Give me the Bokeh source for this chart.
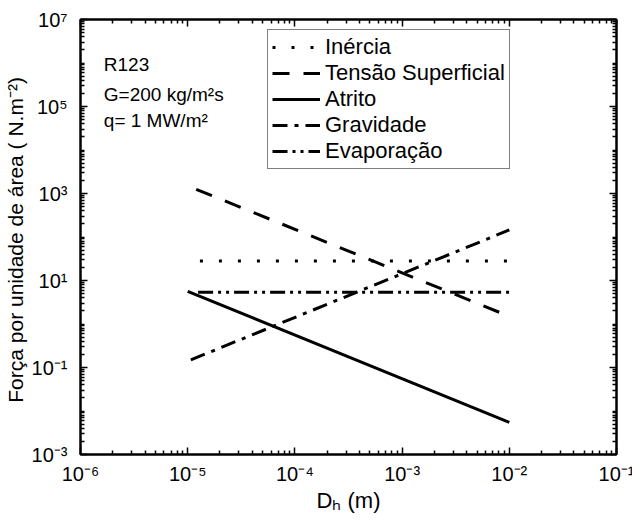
from bokeh.plotting import figure
from bokeh.models import (Range1d, FixedTicker, CustomJSTickFormatter, LogAxis,
                          Legend, LegendItem, Label)
from bokeh.embed import file_html
from bokeh.resources import INLINE

# ---- data ----
dh_inercia = [1.3e-5, 1e-2]
f_inercia = [28, 28]
dh_tensao = [1.2e-5, 1e-2]
f_tensao = [1250, 1.5]
dh_atrito = [1e-5, 1e-2]
f_atrito = [5.6, 0.0055]
dh_gravidade = [1.07e-5, 1e-2]
f_gravidade = [0.15, 145]
dh_evap = [1.25e-5, 1e-2]
f_evap = [5.4, 5.4]

x_exponents = [-6, -5, -4, -3, -2, -1]
y_label_exponents = [-3, -1, 1, 3, 5, 7]
y_decades = list(range(-3, 7))

FONT = "Liberation Sans"

p = figure(frame_width=536, frame_height=435, x_axis_type="log", y_axis_type="log",
           x_range=Range1d(1e-6, 1e-1), y_range=Range1d(1e-3, 1e7),
           output_backend="svg", toolbar_location=None,
           min_border_left=76, min_border_right=20, min_border_top=19,
           min_border_bottom=74)
p.grid.visible = False
p.outline_line_color = "black"
p.outline_line_width = 2
p.background_fill_color = "white"
p.border_fill_color = "white"

x_major = [10.0 ** e for e in x_exponents]
x_minor = [m * 10.0 ** e for e in x_exponents[:-1] for m in range(2, 10)]
y_major = [10.0 ** e for e in y_label_exponents]
y_minor = [m * 10.0 ** e for e in y_decades for m in range(1, 10)
           if not (m == 1 and e in y_label_exponents)]

sup_js = """
const sup = {'-':'\u207b','0':'\u2070','1':'\u00b9','2':'\u00b2','3':'\u00b3','4':'\u2074','5':'\u2075','6':'\u2076','7':'\u2077','8':'\u2078','9':'\u2079'};
const e = Math.round(Math.log10(tick));
return "10" + String(e).split('').map(c => sup[c]).join('');
"""
fmt = CustomJSTickFormatter(code=sup_js)


def style_axis(ax, show_labels=True):
    ax.axis_line_width = 2
    ax.axis_line_color = "black"
    ax.major_tick_in = 7
    ax.major_tick_out = 0
    ax.minor_tick_in = 4
    ax.minor_tick_out = 0
    ax.major_tick_line_color = "black"
    ax.minor_tick_line_color = "black"
    ax.major_tick_line_width = 1.5
    ax.minor_tick_line_width = 1.5
    ax.major_label_text_font = FONT
    ax.major_label_text_color = "black"
    ax.axis_label_text_font = FONT
    ax.axis_label_text_font_style = "normal"
    ax.axis_label_text_color = "black"
    if not show_labels:
        ax.major_label_text_font_size = "2px"
        ax.major_label_text_color = None
        ax.major_label_standoff = 0


xax = p.xaxis[0]
xax.ticker = FixedTicker(ticks=x_major, minor_ticks=x_minor)
xax.formatter = fmt
style_axis(xax)
xax.major_label_text_font_size = "20px"
xax.major_label_standoff = 8
xax.axis_label = "D\u2095 (m)"
xax.axis_label_text_font_size = "22px"
xax.axis_label_standoff = 0

yax = p.yaxis[0]
yax.ticker = FixedTicker(ticks=y_major, minor_ticks=y_minor)
yax.formatter = fmt
style_axis(yax)
yax.major_label_text_font_size = "20px"
yax.major_label_standoff = 13
yax.axis_label = "For\u00e7a por unidade de \u00e1rea  ( N.m\u207b\u00b2)"
yax.axis_label_text_font_size = "21px"
yax.axis_label_standoff = 2

top = LogAxis(ticker=FixedTicker(ticks=x_major, minor_ticks=x_minor), formatter=fmt)
style_axis(top, show_labels=False)
p.add_layout(top, "above")
right = LogAxis(ticker=FixedTicker(ticks=y_major, minor_ticks=y_minor), formatter=fmt)
style_axis(right, show_labels=False)
p.add_layout(right, "right")

# ---- lines ----
r_in = p.line(dh_inercia, f_inercia, line_color="black", line_width=3, line_dash="3 16")
r_te = p.line(dh_tensao, f_tensao, line_color="black", line_width=3, line_dash="17 14")
r_at = p.line(dh_atrito, f_atrito, line_color="black", line_width=3)
r_gr = p.line(dh_gravidade, f_gravidade, line_color="black", line_width=3, line_dash="15 7 4 7")
r_ev = p.line(dh_evap, f_evap, line_color="black", line_width=3, line_dash="15 5 3 5 3 5")

legend = Legend(items=[
    LegendItem(label="In\u00e9rcia", renderers=[r_in]),
    LegendItem(label="Tens\u00e3o Superficial", renderers=[r_te]),
    LegendItem(label="Atrito", renderers=[r_at]),
    LegendItem(label="Gravidade", renderers=[r_gr]),
    LegendItem(label="Evapora\u00e7\u00e3o", renderers=[r_ev]),
], location=(187, 285))
legend.label_text_font = FONT
legend.label_text_font_size = "22px"
legend.label_text_color = "black"
legend.glyph_width = 48
legend.glyph_height = 22
legend.label_height = 22
legend.label_standoff = 5
legend.spacing = 0
legend.padding = 4
legend.margin = 0
legend.border_line_color = "black"
legend.border_line_width = 1
legend.background_fill_alpha = 1
p.add_layout(legend, "center")

# ---- annotation text ----
for txt, yv in [("R123", 10 ** 5.97), ("G=200 kg/m\u00b2s", 10 ** 5.28), ("q= 1 MW/m\u00b2", 10 ** 4.68)]:
    p.add_layout(Label(x=1.65e-6, y=yv, text=txt, text_font=FONT, text_font_size="19px",
                       text_color="black", text_baseline="alphabetic"))

open("out.html", "w").write(file_html(p, INLINE))
